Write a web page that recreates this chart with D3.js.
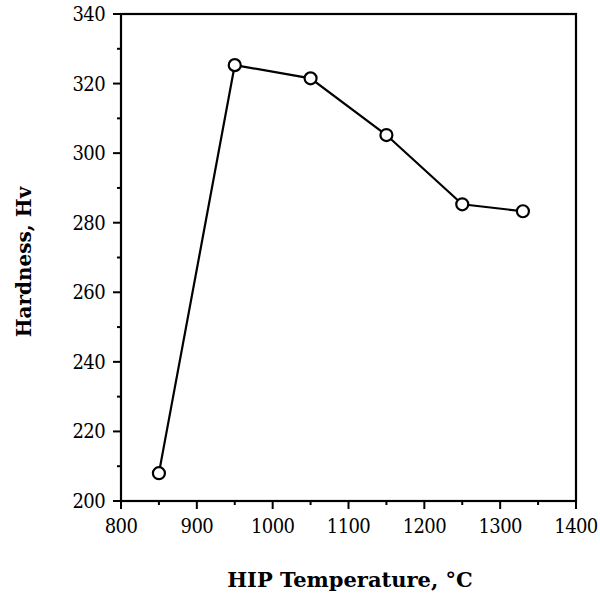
<!DOCTYPE html>
<html>
<head>
<meta charset="utf-8">
<script src="https://d3js.org/d3.v7.min.js"></script>
<style>
    body { margin: 0; background: #fff; }
    text { font-family: "DejaVu Serif Condensed", "DejaVu Serif", serif; fill: #000; }
    .tick-label { font-size: 20px; letter-spacing: -0.6px; }
    .axis-title { font-family: "DejaVu Serif", serif; font-weight: bold; }
</style>
</head>
<body>
<svg id="vis"></svg>
<script>
    var width = 600,
        height = 595;

    // data
    var temps = [850, 950, 1050, 1150, 1250, 1330];
    var hardness = [208, 325.3, 321.5, 305.2, 285.3, 283.3];
    var xTicks = [800, 900, 1000, 1100, 1200, 1300, 1400];
    var yTicks = [200, 220, 240, 260, 280, 300, 320, 340];

    var margin = { left: 121, right: 24, top: 14, bottom: 94 };

    var svg = d3.select("#vis").attr("width", width).attr("height", height);

    var x = d3.scaleLinear().domain([800, 1400]).range([margin.left, width - margin.right]);
    var y = d3.scaleLinear().domain([200, 340]).range([height - margin.bottom, margin.top]);

    // frame
    svg.append("rect")
        .attr("x", x(800))
        .attr("y", y(340))
        .attr("width", x(1400) - x(800))
        .attr("height", y(200) - y(340))
        .attr("fill", "none")
        .attr("stroke", "#000")
        .attr("stroke-width", 2.2);

    // x axis major ticks + labels
    var xMinor = d3.range(850, 1400, 100);
    xTicks.forEach(function (t) {
        svg.append("line")
            .attr("x1", x(t)).attr("x2", x(t))
            .attr("y1", y(200)).attr("y2", y(200) + 8)
            .attr("stroke", "#000").attr("stroke-width", 2);
        svg.append("text")
            .attr("class", "tick-label")
            .attr("x", x(t))
            .attr("y", y(200) + 32)
            .attr("text-anchor", "middle")
            .text(t);
    });
    xMinor.forEach(function (t) {
        svg.append("line")
            .attr("x1", x(t)).attr("x2", x(t))
            .attr("y1", y(200)).attr("y2", y(200) + 4)
            .attr("stroke", "#000").attr("stroke-width", 2);
    });

    // y axis major ticks + labels
    var yMinor = d3.range(210, 340, 20);
    yTicks.forEach(function (t) {
        svg.append("line")
            .attr("x1", x(800) - 8).attr("x2", x(800))
            .attr("y1", y(t)).attr("y2", y(t))
            .attr("stroke", "#000").attr("stroke-width", 2);
        svg.append("text")
            .attr("class", "tick-label")
            .attr("x", x(800) - 16)
            .attr("y", y(t) + 7)
            .attr("text-anchor", "end")
            .text(t);
    });
    yMinor.forEach(function (t) {
        svg.append("line")
            .attr("x1", x(800) - 4).attr("x2", x(800))
            .attr("y1", y(t)).attr("y2", y(t))
            .attr("stroke", "#000").attr("stroke-width", 2);
    });

    // axis titles
    svg.append("text")
        .attr("class", "axis-title")
        .style("font-size", "21px")
        .attr("x", 350)
        .attr("y", 587)
        .attr("text-anchor", "middle")
        .text("HIP Temperature, \u00B0C");

    svg.append("text")
        .attr("class", "axis-title")
        .style("font-size", "20px")
        .attr("transform", "translate(31,262) rotate(-90)")
        .attr("text-anchor", "middle")
        .text("Hardness, Hv");

    // line + markers
    var pts = temps.map(function (t, i) { return [t, hardness[i]]; });
    var line = d3.line().x(function (d) { return x(d[0]); }).y(function (d) { return y(d[1]); });

    svg.append("path")
        .datum(pts)
        .attr("d", line)
        .attr("fill", "none")
        .attr("stroke", "#000")
        .attr("stroke-width", 2.2);

    svg.selectAll("circle.pt")
        .data(pts)
        .enter()
        .append("circle")
        .attr("class", "pt")
        .attr("cx", function (d) { return x(d[0]); })
        .attr("cy", function (d) { return y(d[1]); })
        .attr("r", 6)
        .attr("fill", "#fff")
        .attr("stroke", "#000")
        .attr("stroke-width", 2.2);
</script>
</body>
</html>
